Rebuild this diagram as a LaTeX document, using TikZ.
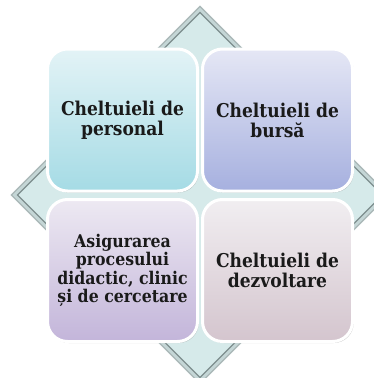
\documentclass[tikz,border=0pt]{standalone}
\usepackage{fontspec}
\newfontfamily\boxfont{DejaVu Serif}[FakeStretch=0.9]
\usetikzlibrary{shadows}
\definecolor{dfill}{HTML}{D6EAEA}
\definecolor{dline}{HTML}{7E8E8E}
\definecolor{dinner}{HTML}{C4D6D6}
\definecolor{tltop}{HTML}{E3F3F6}
\definecolor{tlbot}{HTML}{A5DBE5}
\definecolor{trtop}{HTML}{E5E7F5}
\definecolor{trbot}{HTML}{A6B0DF}
\definecolor{bltop}{HTML}{EDE9F2}
\definecolor{blbot}{HTML}{C3B5DA}
\definecolor{brtop}{HTML}{F1EEF1}
\definecolor{brbot}{HTML}{D4C5CE}
\definecolor{txt}{HTML}{1A1A1A}
\tikzset{
  tile/.style={rounded corners=20pt, draw=white, line width=3pt,
    minimum width=150pt, minimum height=142pt, inner sep=0pt,
    align=center, text=txt, font=\boxfont\bfseries\fontsize{19}{20}\selectfont,
    drop shadow={shadow xshift=1.2pt, shadow yshift=-1.5pt, opacity=0.35, fill=black!60}},
  smalltext/.style={font=\boxfont\bfseries\fontsize{17.5}{18.4}\selectfont}
}
\begin{document}
\begin{tikzpicture}[x=1pt,y=-1pt]
\useasboundingbox (0,0) rectangle (374,378);
\clip (0,0) rectangle (374,378);
% diamond
\coordinate (dt) at (200,9);
\coordinate (dl) at (14,195);
\coordinate (dr) at (386,195);
\coordinate (db) at (200,381);
\fill[dfill] (dt) -- (dr) -- (db) -- (dl) -- cycle;
\draw[line width=5pt, dinner, line join=miter] (dt) -- (dr) -- (db) -- (dl) -- cycle;
\draw[line width=1pt, dline!70, line join=miter] (200,6.5) -- (388.5,195) -- (200,383.5) -- (11.5,195) -- cycle;
\draw[line width=1.2pt, dline, line join=miter] (200,12.5) -- (382.5,195) -- (200,377.5) -- (17.5,195) -- cycle;
% tiles
\node[tile, top color=tltop, bottom color=tlbot] (tl) at (122.5,120) {Cheltuieli de\\personal};
\node[tile, top color=trtop, bottom color=trbot] (tr) at (277.5,120) {Cheltuieli de\\bursă};
\node[tile, top color=bltop, bottom color=blbot, smalltext] (bl) at (122.5,270.5) {Asigurarea\\procesului\\didactic, clinic\\și de cercetare};
\node[tile, top color=brtop, bottom color=brbot] (br) at (277.5,270.5) {Cheltuieli de\\dezvoltare};
\end{tikzpicture}
\end{document}
